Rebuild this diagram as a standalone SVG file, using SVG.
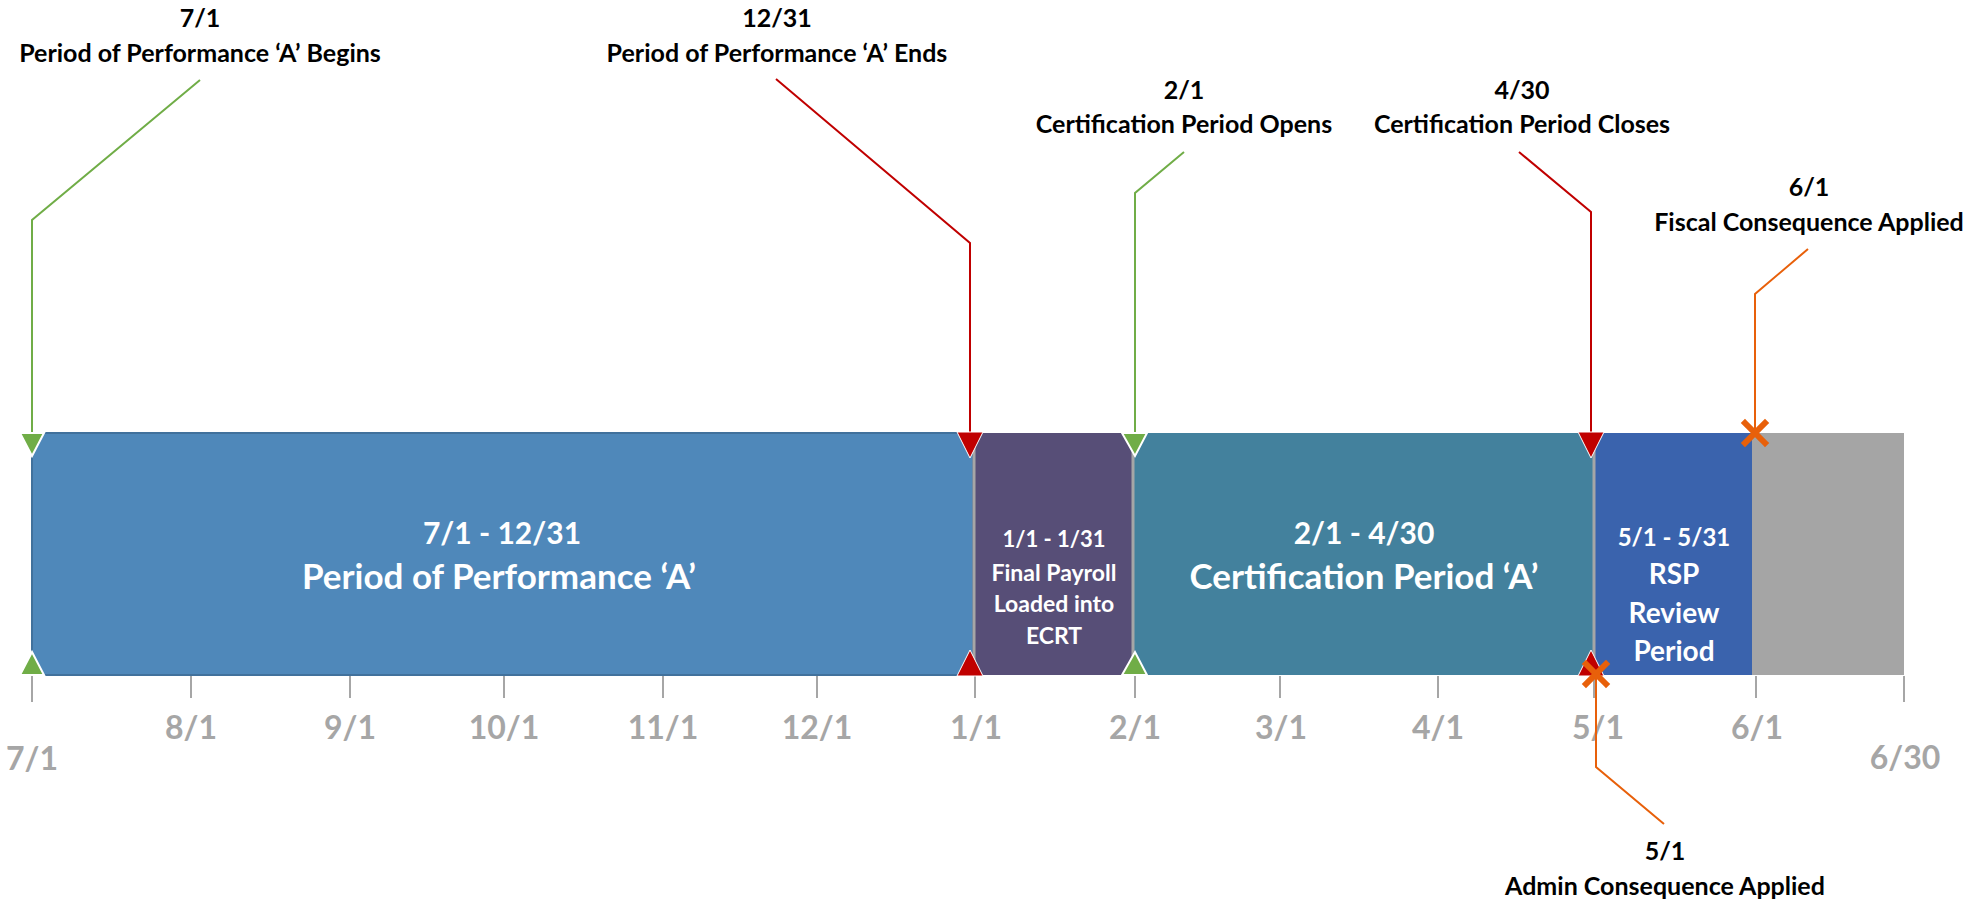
<svg xmlns="http://www.w3.org/2000/svg" width="1979" height="902" viewBox="0 0 1979 902">
<style>
text{font-family:Lato,"Liberation Sans",sans-serif;font-weight:bold;text-anchor:middle}
.top{font-size:25px;fill:#000}
.tick{font-size:32px;fill:#A6A6A6}
.tk{stroke:#A6A6A6;stroke-width:2}
.div{stroke:#A6A6A6;stroke-width:3}
.w{fill:#fff}
.lead{fill:none;stroke-width:2}
.g{stroke:#70AD47}.r{stroke:#C00000}.o{stroke:#E8600A}
.tg{fill:#70AD47;stroke:#fff;stroke-width:2}
.tr{fill:#C00000;stroke:#fff;stroke-width:1}
.x{stroke:#E8600A;stroke-width:6;stroke-linecap:square}
</style>
<rect width="1979" height="902" fill="#fff"/>
<g id="bar">
<g id="seg-pop">
<rect x="32" y="433" width="941" height="242" fill="#4F88BA" stroke="#41719C" stroke-width="2"/>
<text class="w" x="502" y="544" font-size="30">7/1 - 12/31</text>
<text class="w" x="499" y="589" font-size="35">Period of Performance ‘A’</text>
</g>
<g id="seg-payroll">
<rect x="974" y="433" width="159" height="242" fill="#574E77"/>
<text class="w" x="1054" y="547" font-size="22">1/1 - 1/31</text>
<text class="w" x="1054" y="581" font-size="23">Final Payroll</text>
<text class="w" x="1054" y="612" font-size="23">Loaded into</text>
<text class="w" x="1054" y="644" font-size="23">ECRT</text>
</g>
<g id="seg-cert">
<rect x="1133" y="433" width="461" height="242" fill="#43819D"/>
<text class="w" x="1364" y="544" font-size="30">2/1 - 4/30</text>
<text class="w" x="1364" y="589" font-size="35">Certification Period ‘A’</text>
</g>
<g id="seg-rsp">
<rect x="1594" y="433" width="158" height="242" fill="#3A63AD"/>
<text class="w" x="1674" y="546" font-size="24">5/1 - 5/31</text>
<text class="w" x="1674" y="584" font-size="28">RSP</text>
<text class="w" x="1674" y="623" font-size="28">Review</text>
<text class="w" x="1674" y="661" font-size="28">Period</text>
</g>
<g id="seg-rest">
<rect x="1752" y="433" width="152" height="242" fill="#A5A5A5"/>
</g>
<line class="div" x1="974" y1="433" x2="974" y2="675"/>
<line class="div" x1="1133" y1="433" x2="1133" y2="675"/>
<line class="div" x1="1594" y1="433" x2="1594" y2="675"/>
</g>
<g id="axis">
<line class="tk" x1="32" y1="676" x2="32" y2="702"/>
<line class="tk" x1="191" y1="676" x2="191" y2="698"/>
<line class="tk" x1="350" y1="676" x2="350" y2="698"/>
<line class="tk" x1="504" y1="676" x2="504" y2="698"/>
<line class="tk" x1="663" y1="676" x2="663" y2="698"/>
<line class="tk" x1="817" y1="676" x2="817" y2="698"/>
<line class="tk" x1="975" y1="676" x2="975" y2="698"/>
<line class="tk" x1="1135" y1="676" x2="1135" y2="698"/>
<line class="tk" x1="1280" y1="676" x2="1280" y2="698"/>
<line class="tk" x1="1438" y1="676" x2="1438" y2="698"/>
<line class="tk" x1="1594" y1="676" x2="1594" y2="698"/>
<line class="tk" x1="1756" y1="676" x2="1756" y2="698"/>
<line class="tk" x1="1904" y1="676" x2="1904" y2="702"/>
<text class="tick" x="32" y="770">7/1</text>
<text class="tick" x="191" y="739">8/1</text>
<text class="tick" x="350" y="739">9/1</text>
<text class="tick" x="504" y="739">10/1</text>
<text class="tick" x="663" y="739">11/1</text>
<text class="tick" x="817" y="739">12/1</text>
<text class="tick" x="976" y="739">1/1</text>
<text class="tick" x="1135" y="739">2/1</text>
<text class="tick" x="1281" y="739">3/1</text>
<text class="tick" x="1438" y="739">4/1</text>
<text class="tick" x="1598" y="739">5/1</text>
<text class="tick" x="1757" y="739">6/1</text>
<text class="tick" x="1905" y="769">6/30</text>
</g>
<g id="connectors">
<polyline class="lead g" points="200,80 32,220 32,436"/>
<polyline class="lead r" points="776,79 970,243 970,436"/>
<polyline class="lead g" points="1184,152 1135,193 1135,436"/>
<polyline class="lead r" points="1519,152 1591,212 1591,436"/>
<polyline class="lead o" points="1808,249 1755,294 1755,433"/>
<polyline class="lead o" points="1596,674 1596,767 1664,824"/>
</g>
<g id="markers">
<polygon class="tg" points="20,433 44,433 32,456"/>
<polygon class="tg" points="20,675 44,675 32,652"/>
<polygon class="tr" points="957,432 983,432 970,458"/>
<polygon class="tr" points="957,676 983,676 970,650"/>
<polygon class="tg" points="1122,433 1147,433 1135,456"/>
<polygon class="tg" points="1122,675 1147,675 1135,652"/>
<polygon class="tr" points="1578,432 1604,432 1591,458"/>
<polygon class="tr" points="1578,676 1604,676 1591,650"/>
<path class="x" d="M1745,423 L1765,443 M1765,423 L1745,443"/>
<path class="x" d="M1586,664 L1606,684 M1606,664 L1586,684"/>
</g>
<g id="label-pop-begins">
<text class="top" x="200" y="27">7/1</text>
<text class="top" x="200" y="62">Period of Performance ‘A’ Begins</text>
</g>
<g id="label-pop-ends">
<text class="top" x="777" y="27">12/31</text>
<text class="top" x="777" y="62">Period of Performance ‘A’ Ends</text>
</g>
<g id="label-cert-opens">
<text class="top" x="1184" y="99">2/1</text>
<text class="top" x="1184" y="133">Certification Period Opens</text>
</g>
<g id="label-cert-closes">
<text class="top" x="1522" y="99">4/30</text>
<text class="top" x="1522" y="133">Certification Period Closes</text>
</g>
<g id="label-fiscal">
<text class="top" x="1809" y="196">6/1</text>
<text class="top" x="1809" y="231">Fiscal Consequence Applied</text>
</g>
<g id="label-admin">
<text class="top" x="1665" y="860">5/1</text>
<text class="top" x="1665" y="895">Admin Consequence Applied</text>
</g>
</svg>
